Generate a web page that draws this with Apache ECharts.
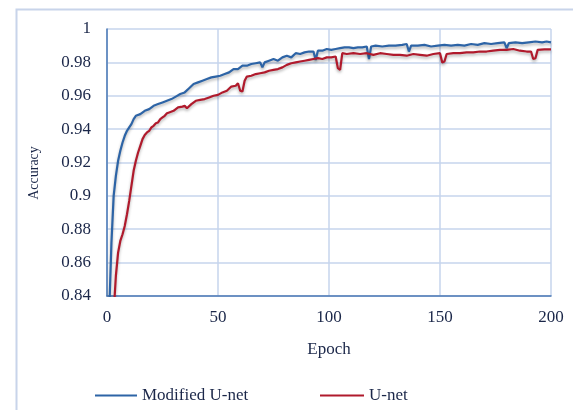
<!DOCTYPE html>
<html>
<head>
<meta charset="utf-8">
<script src="https://cdn.jsdelivr.net/npm/echarts@6/dist/echarts.min.js"></script>
<style>
html,body{margin:0;padding:0;background:#fff;}
#chart{width:573px;height:410px;}
</style>
</head>
<body>
<div id="chart"></div>
<script>
// ---- data ----
var seriesNames = ['Modified U-net', 'U-net'];
var xTicks = [0, 50, 100, 150, 200];
var yTicks = [0.84, 0.86, 0.88, 0.9, 0.92, 0.94, 0.96, 0.98, 1];

var modEpochs = [1,2,3,4,5,6,7,8,9,10,11,12,13,15,17,19,21,23,25,27,29,31,33,35,37,39,41,43,45,47,49,51,53,55,57,59,61,63,65,67,69,70,71,73,75,77,79,81,83,85,87,89,91,93,94,95,97,99,101,103,105,107,109,111,113,115,117,118,119,121,124,127,130,133,135,136,137,140,143,146,149,152,155,158,161,164,167,170,173,176,179,180,181,184,187,190,193,196,198,200];
var modAcc = [0.83,0.872,0.900,0.912,0.921,0.927,0.932,0.936,0.939,0.941,0.943,0.946,0.948,0.949,0.951,0.952,0.954,0.955,0.956,0.957,0.958,0.9595,0.961,0.962,0.9645,0.967,0.968,0.969,0.970,0.971,0.9715,0.972,0.973,0.974,0.976,0.976,0.978,0.978,0.979,0.9795,0.980,0.977,0.980,0.981,0.982,0.981,0.983,0.984,0.983,0.9855,0.985,0.986,0.9865,0.9865,0.9815,0.987,0.987,0.988,0.9875,0.988,0.9885,0.989,0.989,0.9885,0.989,0.989,0.9895,0.982,0.9895,0.990,0.9895,0.990,0.990,0.9905,0.991,0.9865,0.990,0.990,0.9905,0.9895,0.990,0.9905,0.990,0.9905,0.990,0.991,0.9905,0.9915,0.991,0.9915,0.992,0.9885,0.9915,0.992,0.9915,0.992,0.9925,0.992,0.9925,0.992];

var unetEpochs = [3,4,5,6,7,8,9,10,11,12,13,14,15,16,17,18,19,20,21,22,23,24,25,26,27,28,30,32,34,35,36,38,40,42,44,46,48,50,52,54,56,58,59,60,61,62,63,65,67,69,71,73,75,77,79,81,83,85,87,89,91,93,95,97,99,101,103,104,105,106,108,111,114,117,120,123,126,129,132,135,138,141,144,147,150,151,152,153,156,159,162,165,168,171,174,177,180,183,186,189,191,192,193,194,197,200];
var unetAcc = [0.83,0.852,0.866,0.873,0.877,0.882,0.889,0.897,0.906,0.915,0.921,0.926,0.930,0.934,0.9365,0.938,0.939,0.941,0.942,0.9435,0.944,0.946,0.947,0.948,0.9495,0.950,0.951,0.953,0.9535,0.954,0.9525,0.955,0.957,0.9575,0.958,0.959,0.960,0.9605,0.962,0.963,0.9655,0.966,0.9675,0.963,0.9625,0.969,0.9715,0.972,0.973,0.9735,0.974,0.975,0.9755,0.976,0.977,0.9785,0.9795,0.980,0.9805,0.981,0.9815,0.982,0.9825,0.982,0.983,0.983,0.9835,0.9765,0.9755,0.9855,0.985,0.9855,0.985,0.9855,0.9845,0.9855,0.985,0.9845,0.9845,0.984,0.985,0.9845,0.984,0.985,0.9855,0.980,0.9805,0.985,0.9855,0.9855,0.986,0.986,0.9865,0.9865,0.987,0.9875,0.9875,0.988,0.987,0.9865,0.9865,0.982,0.9825,0.9875,0.9878,0.9878];

var yTitle = 'Accuracy';

function pairs(xs, ys) { return xs.map(function (x, i) { return [x, ys[i]]; }); }

var textColor = '#1b2749';
var fontFam = '"Liberation Serif", "DejaVu Serif", serif';
var blue = '#2d64a6';
var red = '#b01a2c';

var chart = echarts.init(document.getElementById('chart'), null, {renderer: 'canvas'});
chart.setOption({
  backgroundColor: '#ffffff',
  animation: false,
  graphic: [{
    type: 'rect', left: 14, top: 7, z: -1,
    shape: {x: 0, y: 0, width: 620, height: 460},
    style: {fill: 'none', stroke: '#c8d4ea', lineWidth: 2}
  }, {
    type: 'text', x: 34, y: 173, rotation: Math.PI / 2,
    style: {text: yTitle, fill: textColor, font: '14px "Liberation Serif", serif',
      textAlign: 'center', textVerticalAlign: 'middle'}
  }],
  grid: {left: 107, right: 22, top: 29, bottom: 114, containLabel: false},
  legend: [{
    data: [seriesNames[0]], left: 90, top: 382, icon: 'rect', itemWidth: 42, itemHeight: 2, itemGap: 4,
    textStyle: {color: textColor, fontFamily: fontFam, fontSize: 17}
  }, {
    data: [seriesNames[1]], left: 315, top: 382, icon: 'rect', itemWidth: 44, itemHeight: 2, itemGap: 4,
    textStyle: {color: textColor, fontFamily: fontFam, fontSize: 17}
  }],
  xAxis: {
    type: 'value', min: xTicks[0], max: xTicks[xTicks.length - 1], interval: 50,
    name: 'Epoch', nameLocation: 'middle', nameGap: 45,
    nameTextStyle: {color: textColor, fontFamily: fontFam, fontSize: 17},
    axisLine: {show: true, lineStyle: {color: '#4a78b4', width: 1.5}},
    axisTick: {show: false},
    axisLabel: {color: textColor, fontFamily: fontFam, fontSize: 17, margin: 13},
    splitLine: {show: true, lineStyle: {color: '#c6d5ec', width: 1.5}}
  },
  yAxis: {
    type: 'value', min: yTicks[0], max: yTicks[yTicks.length - 1], interval: 0.02,
    axisLine: {show: true, lineStyle: {color: '#4a78b4', width: 1.5}},
    axisTick: {show: false},
    axisLabel: {color: textColor, fontFamily: fontFam, fontSize: 17, margin: 16,
      formatter: function (v) { return String(parseFloat(v.toFixed(2))); }},
    splitLine: {show: true, lineStyle: {color: '#c6d5ec', width: 1.5}}
  },
  series: [{
    name: seriesNames[0], type: 'line', data: pairs(modEpochs, modAcc), symbol: 'none', clip: true,
    color: blue,
    lineStyle: {color: blue, width: 2.2, shadowColor: 'rgba(0,0,0,0.3)', shadowBlur: 3, shadowOffsetY: 2}
  }, {
    name: seriesNames[1], type: 'line', data: pairs(unetEpochs, unetAcc), symbol: 'none', clip: true,
    color: red,
    lineStyle: {color: red, width: 2.2, shadowColor: 'rgba(0,0,0,0.3)', shadowBlur: 3, shadowOffsetY: 2}
  }]
});
</script>
</body>
</html>
